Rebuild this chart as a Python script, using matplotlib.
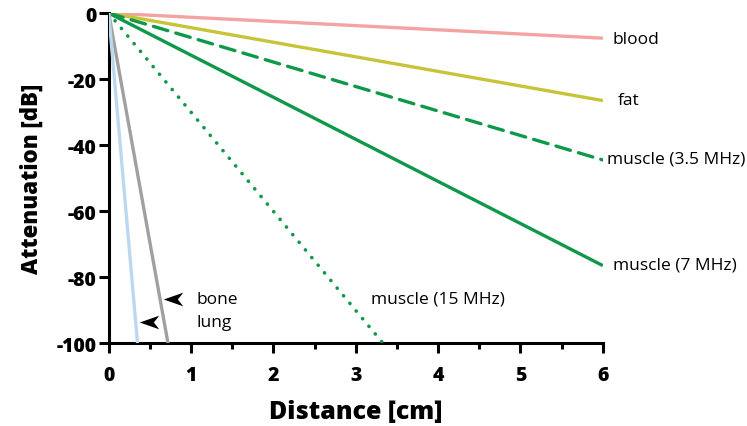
import matplotlib
matplotlib.use("Agg")
import matplotlib.pyplot as plt
from matplotlib.path import Path

plt.rcParams['font.family'] = ['Open Sans', 'DejaVu Sans']
plt.rcParams['axes.unicode_minus'] = False

# end points of each attenuation line (all start at 0 cm, 0 dB)
tissues = ['blood', 'fat', 'muscle (3.5 MHz)', 'muscle (7 MHz)', 'muscle (15 MHz)', 'bone', 'lung']
x_end = [6, 6, 6, 6, 3.33, 0.72, 0.35]
y_end = [-7.6, -26.5, -44.5, -76.5, -100, -100, -100]

colors = ['#f4a3a3', '#c8c43a', '#10984a', '#10984a', '#10984a', '#a0a0a0', '#bcd8f0']
styles = ['-', '-', (0, (4.5, 2.5)), '-', (0, (0.05, 2.7)), '-', '-']
label_pos = [(6.12, -7.9), (6.18, -26.4), (6.05, -44.2), (6.12, -76.1),
             (3.18, -86.4), (1.07, -86.7), (1.07, -93.6)]
arrow_tips = [(0.66, -86.7), (0.37, -93.6)]

fig = plt.figure(figsize=(7.47, 4.27), dpi=100)
ax = fig.add_axes([0.1455, 0.194, 0.6615, 0.773])

for i in range(len(tissues)):
    ax.plot([0, x_end[i]], [0, y_end[i]], color=colors[i], linestyle=styles[i],
            lw=2.6 if i == 4 else 2.4, solid_capstyle='butt', dash_capstyle='round', zorder=3)
    ax.text(label_pos[i][0], label_pos[i][1], tissues[i], fontsize=12.5,
            va='center', ha='left', clip_on=False)

# stealth arrowhead pointing left
head = Path([(-1, 0), (1, 0.7), (0.45, 0), (1, -0.7), (-1, 0)],
            [Path.MOVETO, Path.LINETO, Path.LINETO, Path.LINETO, Path.CLOSEPOLY])
for tx, ty in arrow_tips:
    ax.plot([tx + 0.12], [ty], marker=head, markersize=14, color='black', mew=0)

ax.set_xlim(0, 6)
ax.set_ylim(-100, 0)
ax.spines['top'].set_visible(False)
ax.spines['right'].set_visible(False)
for s in ['left', 'bottom']:
    ax.spines[s].set_linewidth(2.2)
ax.set_xticks([0, 1, 2, 3, 4, 5, 6])
ax.set_xticks([0.5, 1.5, 2.5, 3.5, 4.5, 5.5], minor=True)
ax.set_yticks([0, -20, -40, -60, -80, -100])
ax.tick_params(axis='both', which='major', length=7.5, width=2.2, labelsize=14)
ax.tick_params(axis='x', which='major', pad=8)
ax.tick_params(axis='y', which='major', pad=1.5)
ax.tick_params(axis='x', which='minor', length=4.5, width=2.2)
for lab in ax.get_xticklabels() + ax.get_yticklabels():
    lab.set_fontweight('heavy')

ax.set_xlabel('Distance [cm]', fontsize=18, fontweight='heavy', labelpad=10)
ax.set_ylabel('Attenuation [dB]', fontsize=16, fontweight='heavy', labelpad=9)

fig.savefig('out.png', dpi=100)
